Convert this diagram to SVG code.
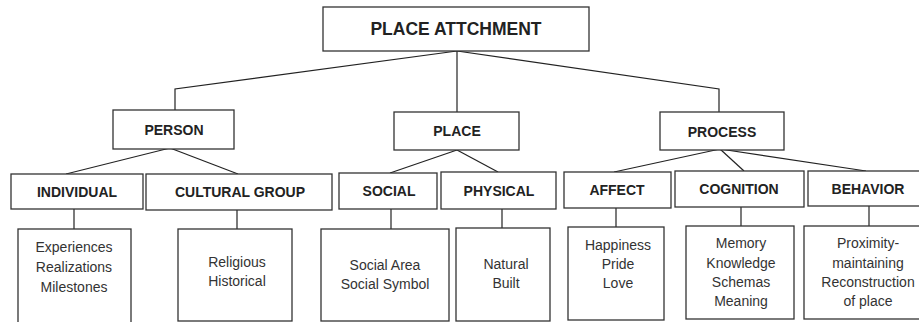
<svg xmlns="http://www.w3.org/2000/svg" width="919" height="322" viewBox="0 0 919 322">
<style>
.box{fill:#fff;stroke:#333;stroke-width:1.3}
.ln{fill:none;stroke:#222;stroke-width:1.2}
.h{font-family:"Liberation Sans",Arial,sans-serif;font-weight:bold;font-size:14px;fill:#222;text-anchor:middle}
.t{font-family:"Liberation Sans",Arial,sans-serif;font-size:14px;fill:#333;text-anchor:middle}
</style>
<rect width="919" height="322" fill="#fff"/>
<g id="connectors" class="ln">
<polyline points="457,51 175,89 175,110"/>
<line x1="457" y1="51" x2="457" y2="112"/>
<polyline points="457,51 719,89 719,112"/>
<line x1="170" y1="148" x2="66" y2="174"/>
<line x1="170" y1="148" x2="238" y2="174"/>
<line x1="457" y1="150" x2="390" y2="173"/>
<line x1="457" y1="150" x2="498" y2="172"/>
<line x1="720" y1="149" x2="614" y2="172"/>
<line x1="720" y1="149" x2="744" y2="171"/>
<line x1="720" y1="149" x2="866" y2="171"/>
<line x1="74" y1="209" x2="74" y2="229"/>
<line x1="237" y1="210" x2="237" y2="229"/>
<line x1="391" y1="209" x2="391" y2="229"/>
<line x1="502" y1="209" x2="502" y2="228"/>
<line x1="616" y1="208" x2="616" y2="227"/>
<line x1="741" y1="207" x2="741" y2="226"/>
<line x1="869" y1="206" x2="869" y2="227"/>
</g>
<g id="place-attachment">
<rect class="box" x="323" y="7" width="266" height="44"/>
<text class="h" x="456" y="35" style="font-size:17.5px">PLACE ATTCHMENT</text>
</g>
<g id="person">
<rect class="box" x="113" y="110" width="121" height="39"/>
<text class="h" x="174" y="135">PERSON</text>
</g>
<g id="place">
<rect class="box" x="394" y="112" width="125" height="38"/>
<text class="h" x="457" y="136">PLACE</text>
</g>
<g id="process">
<rect class="box" x="660" y="112" width="124" height="38"/>
<text class="h" x="722" y="137">PROCESS</text>
</g>
<g id="individual">
<rect class="box" x="11" y="174" width="132" height="35"/>
<text class="h" x="77" y="197">INDIVIDUAL</text>
</g>
<g id="cultural-group">
<rect class="box" x="146" y="174" width="186" height="36"/>
<text class="h" x="240" y="197">CULTURAL GROUP</text>
</g>
<g id="social">
<rect class="box" x="339" y="173" width="98" height="36"/>
<text class="h" x="389" y="196">SOCIAL</text>
</g>
<g id="physical">
<rect class="box" x="441" y="172" width="115" height="37"/>
<text class="h" x="499" y="196">PHYSICAL</text>
</g>
<g id="affect">
<rect class="box" x="564" y="172" width="107" height="36"/>
<text class="h" x="617" y="195">AFFECT</text>
</g>
<g id="cognition">
<rect class="box" x="675" y="171" width="129" height="36"/>
<text class="h" x="739" y="194">COGNITION</text>
</g>
<g id="behavior">
<rect class="box" x="808" y="171" width="120" height="35"/>
<text class="h" x="868" y="194">BEHAVIOR</text>
</g>
<g id="individual-items">
<rect class="box" x="18" y="229" width="113" height="100"/>
<text class="t" x="74" y="252">Experiences</text>
<text class="t" x="74" y="272">Realizations</text>
<text class="t" x="74" y="292">Milestones</text>
</g>
<g id="cultural-items">
<rect class="box" x="178" y="229" width="114" height="92"/>
<text class="t" x="237" y="267">Religious</text>
<text class="t" x="237" y="286">Historical</text>
</g>
<g id="social-items">
<rect class="box" x="321" y="229" width="128" height="92"/>
<text class="t" x="385" y="270">Social Area</text>
<text class="t" x="385" y="289">Social Symbol</text>
</g>
<g id="physical-items">
<rect class="box" x="456" y="228" width="94" height="93"/>
<text class="t" x="506" y="269">Natural</text>
<text class="t" x="506" y="288">Built</text>
</g>
<g id="affect-items">
<rect class="box" x="568" y="227" width="96" height="93"/>
<text class="t" x="618" y="250">Happiness</text>
<text class="t" x="618" y="269">Pride</text>
<text class="t" x="618" y="288">Love</text>
</g>
<g id="cognition-items">
<rect class="box" x="686" y="226" width="108" height="93"/>
<text class="t" x="741" y="248">Memory</text>
<text class="t" x="741" y="268">Knowledge</text>
<text class="t" x="741" y="287">Schemas</text>
<text class="t" x="741" y="306">Meaning</text>
</g>
<g id="behavior-items">
<rect class="box" x="804" y="226" width="124" height="93"/>
<text class="t" x="868" y="248">Proximity-</text>
<text class="t" x="868" y="268">maintaining</text>
<text class="t" x="868" y="287">Reconstruction</text>
<text class="t" x="868" y="306">of place</text>
</g>
</svg>
